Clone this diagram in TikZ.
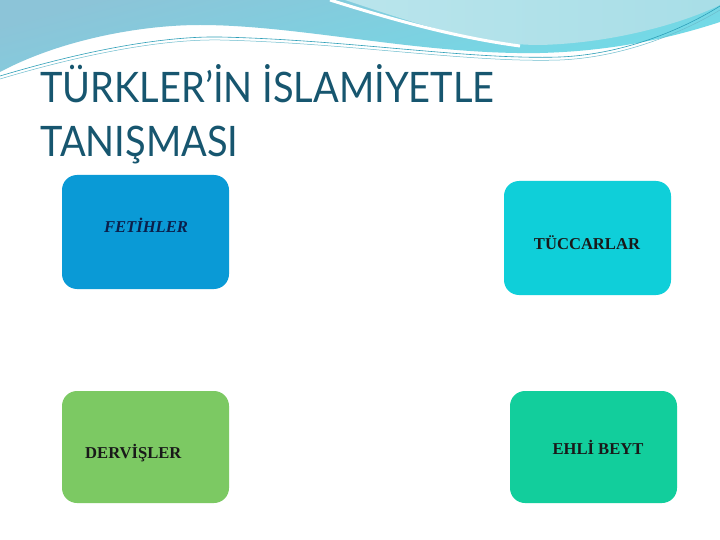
\documentclass[tikz,border=0pt]{standalone}
\usepackage{fontspec}
\setmainfont{Liberation Serif}
\newfontfamily\titlefont[FakeStretch=0.905]{Lato}
\definecolor{titlecol}{HTML}{17566F}
\definecolor{bandA}{HTML}{8CC4D8}
\definecolor{bandAc}{HTML}{70DCE8}
\definecolor{bandB}{HTML}{A8DEE7}
\definecolor{wavecol}{HTML}{2E9FB8}
\definecolor{fetcol}{HTML}{0A9AD6}
\definecolor{tuccol}{HTML}{0FCFD9}
\definecolor{dercol}{HTML}{7CC963}
\definecolor{ehlcol}{HTML}{12CE9C}
\definecolor{navy}{HTML}{0B1F4B}
\begin{document}
\begin{tikzpicture}[x=1pt,y=-1pt,
  boxst/.style={rounded corners=15pt},
  lbl/.style={font=\fontsize{16.6}{19}\selectfont\bfseries, text=black!90, anchor=base, inner sep=0pt},
  ttl/.style={font=\titlefont\fontsize{42}{50}\selectfont, text=titlecol, anchor=base west, inner sep=0pt}]
\useasboundingbox (0,0) rectangle (720,540);
\fill[white] (0,0) rectangle (720,540);
% top decoration
\shade[top color=bandA, bottom color=bandAc, shading angle=15]
  (0,0) -- (0,72) .. controls (60,40) and (140,25) .. (200,25)
  .. controls (300,25) and (420,55) .. (540,53)
  .. controls (620,51) and (680,35) .. (720,22) -- (720,0) -- cycle;
\shade[left color=bandB!80!white, right color=bandB]
  (345,0) .. controls (420,25) and (480,45) .. (540,45)
  .. controls (620,43) and (690,20) .. (720,5) -- (720,0) -- cycle;
\draw[white, line width=3pt] (330,0) .. controls (400,22) and (460,38) .. (520,46);
\draw[wavecol, line width=0.6pt] (0,76) .. controls (80,52) and (160,36) .. (220,37)
  .. controls (350,40) and (470,60) .. (560,57) .. controls (630,54) and (690,25) .. (720,6);
\draw[wavecol!70, line width=0.5pt] (0,79) .. controls (80,55) and (160,39) .. (220,40)
  .. controls (350,43) and (470,63) .. (560,60) .. controls (630,57) and (690,28) .. (720,10);
% title
\node[ttl] (t1) at (40,103) {TÜRKLER’İN İSLAMİYETLE};
\node[ttl] (t2) at (40,157) {TANIŞMASI};
% boxes
\fill[fetcol, boxst] (62,175) rectangle (229,289);
\fill[tuccol, boxst] (504,181) rectangle (671,295);
\fill[dercol, boxst] (62,391) rectangle (229,503);
\fill[ehlcol, boxst] (510,391) rectangle (677,503);
\node[lbl, text=navy, font=\fontsize{16.6}{19}\selectfont\bfseries\itshape] (fet) at (146,233) {FETİHLER};
\node[lbl] (tuc) at (587,249) {TÜCCARLAR};
\node[lbl, anchor=base west] (der) at (85,458) {DERVİŞLER};
\node[lbl] (ehl) at (598,454) {EHLİ BEYT};
\end{tikzpicture}
\end{document}
